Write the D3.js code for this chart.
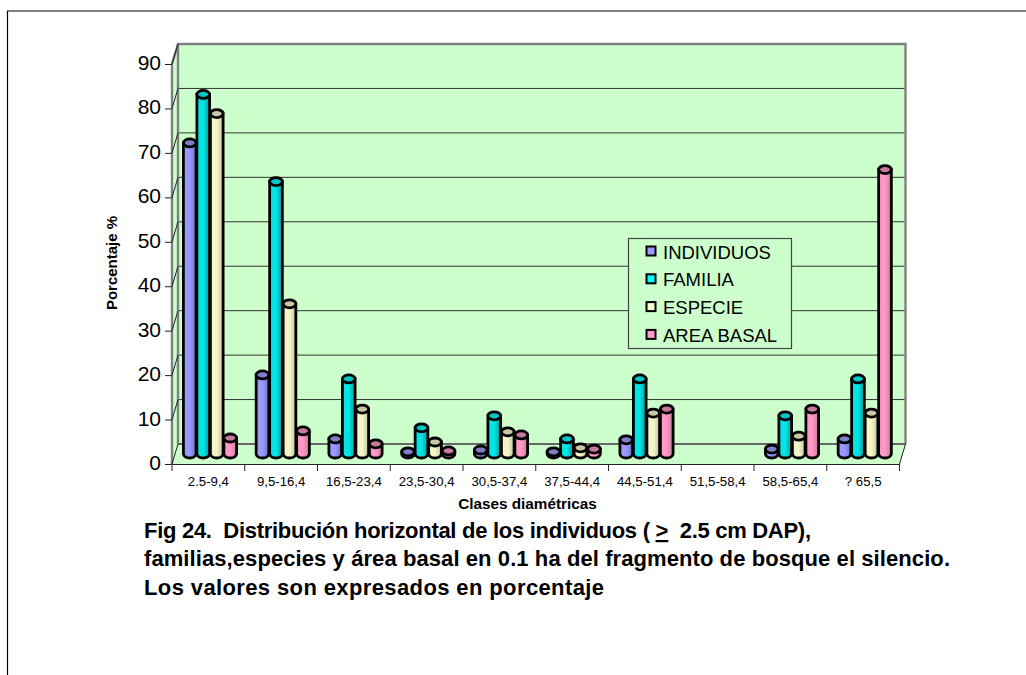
<!DOCTYPE html>
<html><head><meta charset="utf-8">
<script src="https://cdn.jsdelivr.net/npm/d3@7"></script>
<style>html,body{margin:0;padding:0;background:#fff}svg{display:block}text{font-family:"Liberation Sans",Arial,sans-serif;fill:#000}</style>
</head><body><svg id="c" width="1026" height="675"></svg>
<script>
const categories=["2.5-9,4","9,5-16,4","16,5-23,4","23,5-30,4","30,5-37,4","37,5-44,4","44,5-51,4","51,5-58,4","58,5-65,4","? 65,5"];
const seriesNames=["INDIVIDUOS","FAMILIA","ESPECIE","AREA BASAL"];
const individuos=[70,17.8,3.4,0.5,0.9,0.5,3.2,null,1.1,3.4];
const familia=[80.9,61.3,16.9,5.9,8.6,3.4,16.9,null,8.6,16.9];
const especie=[76.6,33.8,10.1,2.7,5,1.4,9.2,null,4,9.2];
const areaBasal=[3.6,5.2,2.3,0.7,4.3,1.1,10.1,null,10.1,64];
const yTicks=[0,10,20,30,40,50,60,70,80,90];
const bodyCols=["#9999ff","#00e6e6","#f5f5c8","#ff99c4"];
const darkCols=["#7070c0","#009a9a","#c4c4a0","#c87aa0"];
const capCols=["#7d7dc8","#00c8c8","#c8c8a8","#c8789c"];
const legendCols=["#9999ff","#00ffff","#ffffcc","#ff99cc"];
const series=[individuos,familia,especie,areaBasal];

const svg=d3.select("#c");
const defs=svg.append("defs");
bodyCols.forEach((c,i)=>{
  const g=defs.append("linearGradient").attr("id","g"+i);
  g.append("stop").attr("offset","0%").attr("stop-color",c);
  g.append("stop").attr("offset","50%").attr("stop-color",c);
  g.append("stop").attr("offset","100%").attr("stop-color",darkCols[i]);
});
svg.append("path").attr("d","M1026,11H7.5V675").attr("fill","none").attr("stroke","#000").attr("stroke-width",1.2);

const dx=6,dz=-20;
const y=d3.scaleLinear().domain([0,90]).range([464,64]);
const x=d3.scaleBand().domain(categories).range([172,899.5]);
const L=x.range()[0],R=x.range()[1];
svg.append("path").attr("d",`M${L},${y(0)}L${L+dx},${y(0)+dz}H${R+dx}L${R},${y(0)}Z`).attr("fill","#ccffcc");
svg.append("path").attr("d",`M${L},${y(0)}V${y(90)}L${L+dx},${y(90)+dz}V${y(0)+dz}Z`).attr("fill","#ccffcc");
svg.append("rect").attr("x",L+dx).attr("y",y(90)+dz).attr("width",R-L).attr("height",y(0)-y(90)).attr("fill","#ccffcc");
svg.append("g").selectAll("line").data(yTicks.slice(1,-1)).join("line")
 .attr("x1",L+dx).attr("x2",R+dx).attr("y1",d=>y(d)+dz).attr("y2",d=>y(d)+dz).attr("stroke","#333").attr("stroke-width",1);
svg.append("path").attr("d",`M${L+dx},${y(0)+dz}V${y(90)+dz}H${R+dx}V${y(0)+dz}`).attr("fill","none").attr("stroke","#808080").attr("stroke-width",2.4);
svg.append("path").attr("d",`M${L+dx},${y(0)+dz}H${R+dx}`).attr("stroke","#666").attr("stroke-width",2);
svg.append("path").attr("d",`M${L},${y(0)}V${y(90)}L${L+dx},${y(90)+dz}`).attr("fill","none").attr("stroke","#808080").attr("stroke-width",2.4);
const ya=svg.append("g").attr("transform",`translate(${L},0)`).call(d3.axisLeft(y).tickValues(yTicks).tickSize(7).tickPadding(4));
ya.select(".domain").remove();
ya.selectAll("line").attr("stroke","#222");
ya.selectAll("text").attr("font-size",21).attr("dy","0.26em").style("font-family",'"Liberation Sans",Arial,sans-serif');
svg.append("g").selectAll("line").data(yTicks).join("line")
 .attr("x1",L).attr("x2",L+dx).attr("y1",d=>y(d)).attr("y2",d=>y(d)+dz).attr("stroke","#222");
const xa=svg.append("g").attr("transform",`translate(0,${y(0)})`).call(d3.axisBottom(x).tickSize(0).tickPadding(13));
xa.select(".domain").attr("stroke","#222").attr("stroke-width",1.2);
xa.selectAll("text").attr("font-size",13.2).style("font-family",'"Liberation Sans",Arial,sans-serif');
svg.append("g").selectAll("line").data(d3.range(categories.length+1)).join("line")
 .attr("x1",i=>L+i*x.step()).attr("x2",i=>L+i*x.step()).attr("y1",y(0)).attr("y2",y(0)+7).attr("stroke","#222");
svg.append("line").attr("x1",R).attr("y1",y(0)).attr("x2",R+dx).attr("y2",y(0)+dz).attr("stroke","#222");
const inner=d3.scaleBand().domain(d3.range(4)).range([11,65]);
const base=y(0)+dz/2;
const bw=inner.bandwidth(), ry=4;
const valY=v=>y(v)+dz/2;
categories.forEach((c,ci)=>{
  series.forEach((s,si)=>{
    const v=s[ci]; if(v==null) return;
    const x0=x(c)+inner(si), rx=bw/2-0.4, cx=x0+bw/2, t=valY(v);
    const g=svg.append("g");
    g.append("path").attr("d",`M${cx-rx},${t}V${base}A${rx},${ry} 0 0 0 ${cx+rx},${base}V${t}Z`)
     .attr("fill",`url(#g${si})`).attr("stroke","#000").attr("stroke-width",2.8);
    g.append("ellipse").attr("cx",cx).attr("cy",t).attr("rx",rx).attr("ry",ry)
     .attr("fill",capCols[si]).attr("stroke","#000").attr("stroke-width",2.8);
  });
});
const lg=svg.append("g");
lg.append("rect").attr("x",628.5).attr("y",238.5).attr("width",163).attr("height",110).attr("fill","#ccffcc").attr("stroke","#444").attr("stroke-width",1.2);
seriesNames.forEach((n,i)=>{
  const cy=251+i*27.8;
  lg.append("rect").attr("x",646.5).attr("y",cy-4.5).attr("width",9).attr("height",9).attr("fill",legendCols[i]).attr("stroke","#000").attr("stroke-width",2);
  lg.append("text").attr("x",663).attr("y",cy+7.5).attr("font-size",18.5).text(n);
});
svg.append("text").attr("x",527.5).attr("y",509).attr("text-anchor","middle").attr("font-size",15.3).attr("font-weight","bold").text("Clases diamétricas");
svg.append("text").attr("transform","translate(117,263) rotate(-90)").attr("text-anchor","middle").attr("font-size",15).attr("font-weight","bold").text("Porcentaje %");
const caption=["Fig 24.  Distribución horizontal de los individuos ( ","familias,especies y área basal en 0.1 ha del fragmento de bosque el silencio.","Los valores son expresados en porcentaje"];
const capEl=svg.append("g").attr("font-size",22).attr("font-weight","bold");
const t0=capEl.append("text").attr("x",144).attr("y",538).attr("textLength",667).attr("lengthAdjust","spacing").style("white-space","pre");
t0.append("tspan").text(caption[0]);
t0.append("tspan").attr("text-decoration","underline").text(">");
t0.append("tspan").text("  2.5 cm DAP),");
capEl.append("text").attr("x",144).attr("y",566).attr("textLength",806).attr("lengthAdjust","spacing").text(caption[1]);
capEl.append("text").attr("x",144).attr("y",595).attr("textLength",460).attr("lengthAdjust","spacing").text(caption[2]);
</script></body></html>
